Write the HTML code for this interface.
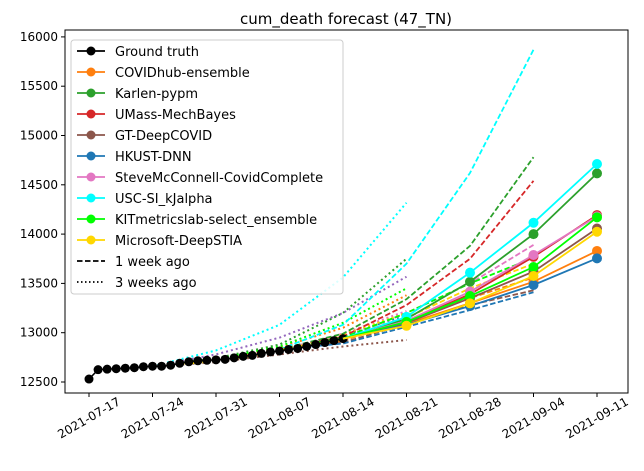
<!DOCTYPE html>
<html><head><meta charset="utf-8"><style>
body{margin:0;background:#fff;font-family:"Liberation Sans","DejaVu Sans",sans-serif}
svg text{font-family:"DejaVu Sans","Liberation Sans",sans-serif}
</style></head><body>
<svg id="c" width="644" height="466" xmlns="http://www.w3.org/2000/svg"></svg>
<script>
const dates=["2021-07-17","2021-07-24","2021-07-31","2021-08-07","2021-08-14","2021-08-21","2021-08-28","2021-09-04","2021-09-11"];
const yTicks=[12500,13000,13500,14000,14500,15000,15500,16000];
const truth=[12530,12625,12630,12635,12640,12645,12655,12660,12660,12670,12690,12705,12715,12720,12725,12730,12745,12760,12770,12790,12805,12815,12830,12840,12860,12880,12900,12920,12940];
const models=["COVIDhub-ensemble","Karlen-pypm","UMass-MechBayes","GT-DeepCOVID","HKUST-DNN","SteveMcConnell-CovidComplete","USC-SI_kJalpha","KITmetricslab-select_ensemble","Microsoft-DeepSTIA"];
const colors=["#ff7f0e","#2ca02c","#d62728","#8c564b","#1f77b4","#e377c2","#00ffff","#00ff00","#ffd700"];
// current forecasts: 08-21, 08-28, 09-04, 09-11
const cur=[[13090,13300,13517,13829],[13140,13517,14000,14616],[13110,13390,13770,14193],[13100,13350,13620,14057],[13080,13270,13484,13754],[13120,13416,13788,14180],[13160,13609,14115,14711],[13110,13372,13666,14170],[13070,13298,13575,14024]];
// 1 week ago: 08-14, 08-21, 08-28, 09-04
const wk1=[[12920,13120,13350,13560],[12990,13340,13880,14780],[12960,13280,13750,14540],[12900,13090,13280,13430],[12890,13060,13230,13410],[12940,13200,13500,13890],[13080,13700,14620,15870],[12950,13200,13500,13760],[12930,13150,13450,13700]];
// 3 weeks ago: 07-31, 08-07, 08-14, 08-21
const wk3=[[12720,12850,13050,13380],[12740,12880,13200,13750],[12710,12820,12980,13200],[12700,12780,12860,12926],[12710,12810,12970,13180],[12710,12820,12990,13220],[12820,13080,13560,14318],[12730,12860,13100,13450],[12710,12810,12980,13200]];
const purple=[12780,12950,13200,13568];

const svg=document.getElementById('c');const NS="http://www.w3.org/2000/svg";
const L=65,R=628,T=30,B=393;
const x0=89,pxDay=63.5/7;
const X=d=>x0+d*pxDay;
const Y=v=>382-(v-12500)/500*49.3;
function el(t,a,p){const e=document.createElementNS(NS,t);for(const k in a)e.setAttribute(k,a[k]);(p||svg).appendChild(e);return e;}
const g=el('g',{});


function line(pts,c,dash,w,name){const p=el('polyline',{points:pts.map(q=>q.join(',')).join(' '),fill:'none',stroke:c,'stroke-width':w||1.5,'stroke-dasharray':dash||''},g);

return p;}
// dotted 3 weeks ago
wk3.forEach((s,i)=>{line([[X(7),Y(12660)]].concat(s.map((v,j)=>[X(14+7*j),Y(v)])),colors[i],'2,3',2,'3wk-'+models[i]);});
line([[X(7),Y(12660)]].concat(purple.map((v,j)=>[X(14+7*j),Y(v)])),'#9467bd','2,3',2,'3wk-extra');
// dashed 1 week ago
wk1.forEach((s,i)=>{line([[X(21),Y(12830)]].concat(s.map((v,j)=>[X(28+7*j),Y(v)])),colors[i],'5.5,2.5',1.8,'1wk-'+models[i]);});
// truth
const tp=truth.map((v,i)=>[X(i),Y(v)]);
line(tp,'#000','',1.5,'ground-truth-line');
tp.forEach(q=>{const c=el('circle',{cx:q[0],cy:q[1],r:4.5,fill:'#000'},g);

});
// current
cur.forEach((s,i)=>{const pts=[[X(28),Y(truth[28])]].concat(s.map((v,j)=>[X(35+7*j),Y(v)]));
line(pts,colors[i],'',1.8,'forecast-'+models[i]);
pts.slice(1).forEach(q=>{const c=el('circle',{cx:q[0],cy:q[1],r:5,fill:colors[i]},g);

});});
// frame
const fr=el('rect',{x:L,y:T,width:R-L,height:B-T,fill:'none',stroke:'#000','stroke-width':1});


// y ticks
yTicks.forEach(v=>{el('line',{x1:L-4,x2:L,y1:Y(v),y2:Y(v),stroke:'#000'});
const t=el('text',{x:L-7,y:Y(v)+4,'text-anchor':'end','font-size':12});t.textContent=v;

});
// x ticks
dates.forEach((d,i)=>{const x=X(7*i);el('line',{x1:x,x2:x,y1:B,y2:B+4,stroke:'#000'});
const cy=B+25;
const t=el('text',{x:x,y:cy+4,'text-anchor':'middle','font-size':12,transform:`rotate(-30 ${x} ${cy})`});t.textContent=d;

});
const ti=el('text',{x:346,y:24,'text-anchor':'middle','font-size':15});ti.textContent="cum_death forecast (47_TN)";


// legend
const lg=el('g',{});


el('rect',{x:71,y:40,width:272,height:254,rx:3,fill:'#fff','fill-opacity':0.85,stroke:'#ccc'},lg);
const entries=[["Ground truth","#000","m"]].concat(models.map((m,i)=>[m,colors[i],"m"])).concat([["1 week ago","#000","5.5,2.5"],["3 weeks ago","#000","1.5,2.5"]]);
entries.forEach((e,i)=>{const y=51+21*i;const eg=el('g',{},lg);


el('line',{x1:77,x2:105,y1:y,y2:y,stroke:e[1],'stroke-width':1.8,'stroke-dasharray':e[2]=="m"?"":e[2]},eg);
if(e[2]=="m")el('circle',{cx:91,cy:y,r:4.5,fill:e[1]},eg);
const t=el('text',{x:115,y:y+5,'font-size':13},eg);t.textContent=e[0];});
</script>
</body></html>
